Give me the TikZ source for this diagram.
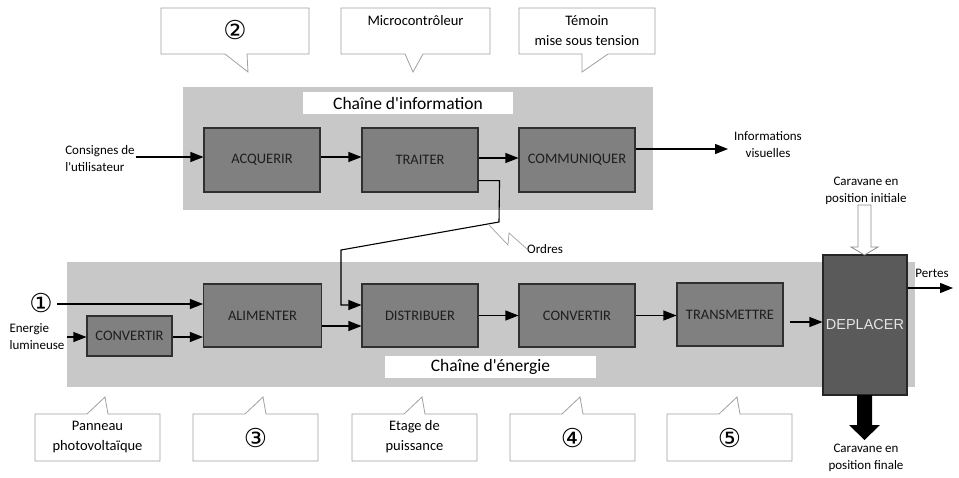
\documentclass[tikz,border=0pt]{standalone}
\usepackage{fontspec}
\setmainfont{Carlito}[Ligatures=TeXOff]
\newfontfamily\circfont{DejaVu Sans}
\newfontfamily\arialfont{Liberation Sans}
\usetikzlibrary{arrows.meta,calc}

\definecolor{chainbg}{HTML}{C8C8C8}
\definecolor{blockfill}{HTML}{808080}
\definecolor{blockline}{HTML}{303030}
\definecolor{blocktext}{HTML}{1E1E1E}
\definecolor{movefill}{HTML}{5A5A5A}
\definecolor{bubbleline}{HTML}{A0A0A0}

\begin{document}
\begin{tikzpicture}[x=1pt,y=-1pt,
  flow/.style={draw=black, line width=1.1pt, -{Triangle[length=13pt,width=10pt]}},
  chain/.style={fill=chainbg, draw=none},
  titlebox/.style={fill=white, draw=none, inner sep=0pt, font=\fontsize{17.5}{20}\selectfont},
  block/.style={draw=blockline, fill=blockfill, line width=1.1pt, inner sep=0pt,
    minimum width=116pt, minimum height=64pt, text=blocktext, font=\fontsize{14.5}{17}\selectfont},
  bubble/.style={draw=bubbleline, fill=white, line width=0.8pt},
  bubbletext/.style={align=center, inner sep=0pt, font=\fontsize{14.5}{20}\selectfont},
  circnum/.style={inner sep=0pt, font=\circfont\fontsize{26}{28}\selectfont},
  lbl/.style={align=center, inner sep=0pt, font=\fontsize{13}{17}\selectfont},
]
\useasboundingbox (0,0) rectangle (959,477);

% ---------- background bands ----------
\fill[chain] (183,87) rectangle (653,210);
\fill[chain] (67,262) rectangle (915,387);
\node[titlebox, minimum width=210pt, minimum height=22pt] (tinfo) at (408,103) {Chaîne d'information};
\node[titlebox, minimum width=211pt, minimum height=22pt] (tener) at (490.5,367) {Chaîne d'énergie};

% ---------- information chain ----------
\node[block] (acq) at (262,160) {ACQUERIR};
\node[block] (tra) at (420,160) {TRAITER};
\node[block] (com) at (577,160) {COMMUNIQUER};

\node[lbl, align=left] (cons) at (100,159) {Consignes de\\l'utilisateur};
\draw[flow] ($(acq.west)+(-67,-3)$) -- ($(acq.west)+(0,-3)$);
\draw[flow] ($(acq.east)+(0,-3)$) -- ($(tra.west)+(0,-3)$);
\draw[flow] ($(tra.east)+(0,-2)$) -- ($(com.west)+(0,-2)$);

\node[lbl] (infovis) at (768,145) {Informations\\visuelles};
\coordinate (infoend) at (728,149);
\draw[flow] (com.east |- infoend) -- (infoend);

% ---------- energy chain ----------
\node[block, minimum width=85pt, minimum height=40pt] (conv1) at (129.5,336) {CONVERTIR};
\node[block, minimum width=118pt, minimum height=63pt] (alim) at (262.5,315.5) {ALIMENTER};
\node[block, minimum height=63pt] (dist) at (420,315.5) {DISTRIBUER};
\node[block, minimum height=63pt] (conv2) at (577,315.5) {CONVERTIR};
\node[block, minimum width=106pt, minimum height=63pt] (trans) at (730,314.5) {TRANSMETTRE};
\node[draw=black!85, fill=movefill, line width=1.1pt, minimum width=84pt, minimum height=140pt,
  inner sep=0pt, text=white!90!black, font=\arialfont\fontsize{14.5}{17}\selectfont] (dep) at (865,325) {DEPLACER};

\node[circnum] (one) at (41,303) {①};
\draw[flow] (57,304) -- (alim.west |- 0,304);

\node[lbl, align=left] (lum) at (37,336.5) {Energie\\lumineuse};
\draw[flow] (67,337) -- (conv1.west |- 0,337);
\draw[flow] (conv1.east |- 0,337) -- (alim.west |- 0,337);
\draw[flow] ($(alim.east)+(0,10.5)$) -- ($(dist.west)+(0,10.5)$);
\draw[flow] (dist.east) -- (dist.east -| conv2.west);
\draw[flow] (conv2.east) -- (conv2.east -| trans.west);
\draw[flow, shorten <=6pt] ($(trans.east)+(0,7.5)$) -- (dep.west |- 0,322);

% orders from the processing block to the distribution block
\coordinate (o1) at (499,222);
\coordinate (o2) at (341,250);
\draw[flow] ($(tra.south east)+(0,-12)$) -- ++(21,0) -- (o1) -- (o2) |- ($(dist.west)+(0,-10.5)$);
\node[lbl, anchor=west] (ordres) at (527,249) {Ordres};
\draw[bubbleline, line width=0.7pt] (489,225) -- (508,245) -- (509,233) -- (ordres.west);

% outputs of the moving block
\coordinate (pend) at (953,288);
\draw[flow] (dep.east |- pend) -- (pend);
\node[lbl] (pertes) at (932,273) {Pertes};

\node[lbl] (carinit) at (866,191) {Caravane en\\position initiale};
\draw[draw=black!45, fill=white, line width=0.8pt]
  (858,205) -- (871,205) -- (871,247) -- (878,247) -- (864.5,255) -- (851,247) -- (858,247) -- cycle;
\fill[black] (857,395) -- (872,395) -- (872,425) -- (880,425) -- (864.5,440) -- (849,425) -- (857,425) -- cycle;
\node[lbl] (carfin) at (866,458) {Caravane en\\position finale};

% ---------- callouts above ----------
\draw[bubble] (161,8) -- (309,8) -- (309,54) -- (247,54) -- (248,72) -- (225,54) -- (161,54) -- cycle;
\node[circnum] (c2) at (235,30) {②};
\draw[bubble] (341,8) -- (490,8) -- (490,54) -- (423,54) -- (413,72) -- (405,54) -- (341,54) -- cycle;
\node[bubbletext] (mcu) at (415.5,21) {Microcontrôleur};
\draw[bubble] (519,8) -- (655,8) -- (655,54) -- (608,54) -- (582,72) -- (582,54) -- (519,54) -- cycle;
\node[bubbletext] (temoin) at (587,31) {Témoin\\mise sous tension};

% ---------- callouts below ----------
\foreach \L in {35,193,352,510,667}{
  \draw[bubble] (\L,414) -- ({\L+52},414) -- ({\L+70},397) -- ({\L+73},414) -- ({\L+125},414)
    -- ({\L+125},461) -- (\L,461) -- cycle;
}
\node[bubbletext] (pv) at (97.5,437) {Panneau\\photovoltaïque};
\node[circnum] (c3) at (255.5,438) {③};
\node[bubbletext] (etage) at (414.5,437) {Etage de\\puissance};
\node[circnum] (c4) at (572.5,438) {④};
\node[circnum] (c5) at (729.5,438) {⑤};
\end{tikzpicture}
\end{document}
